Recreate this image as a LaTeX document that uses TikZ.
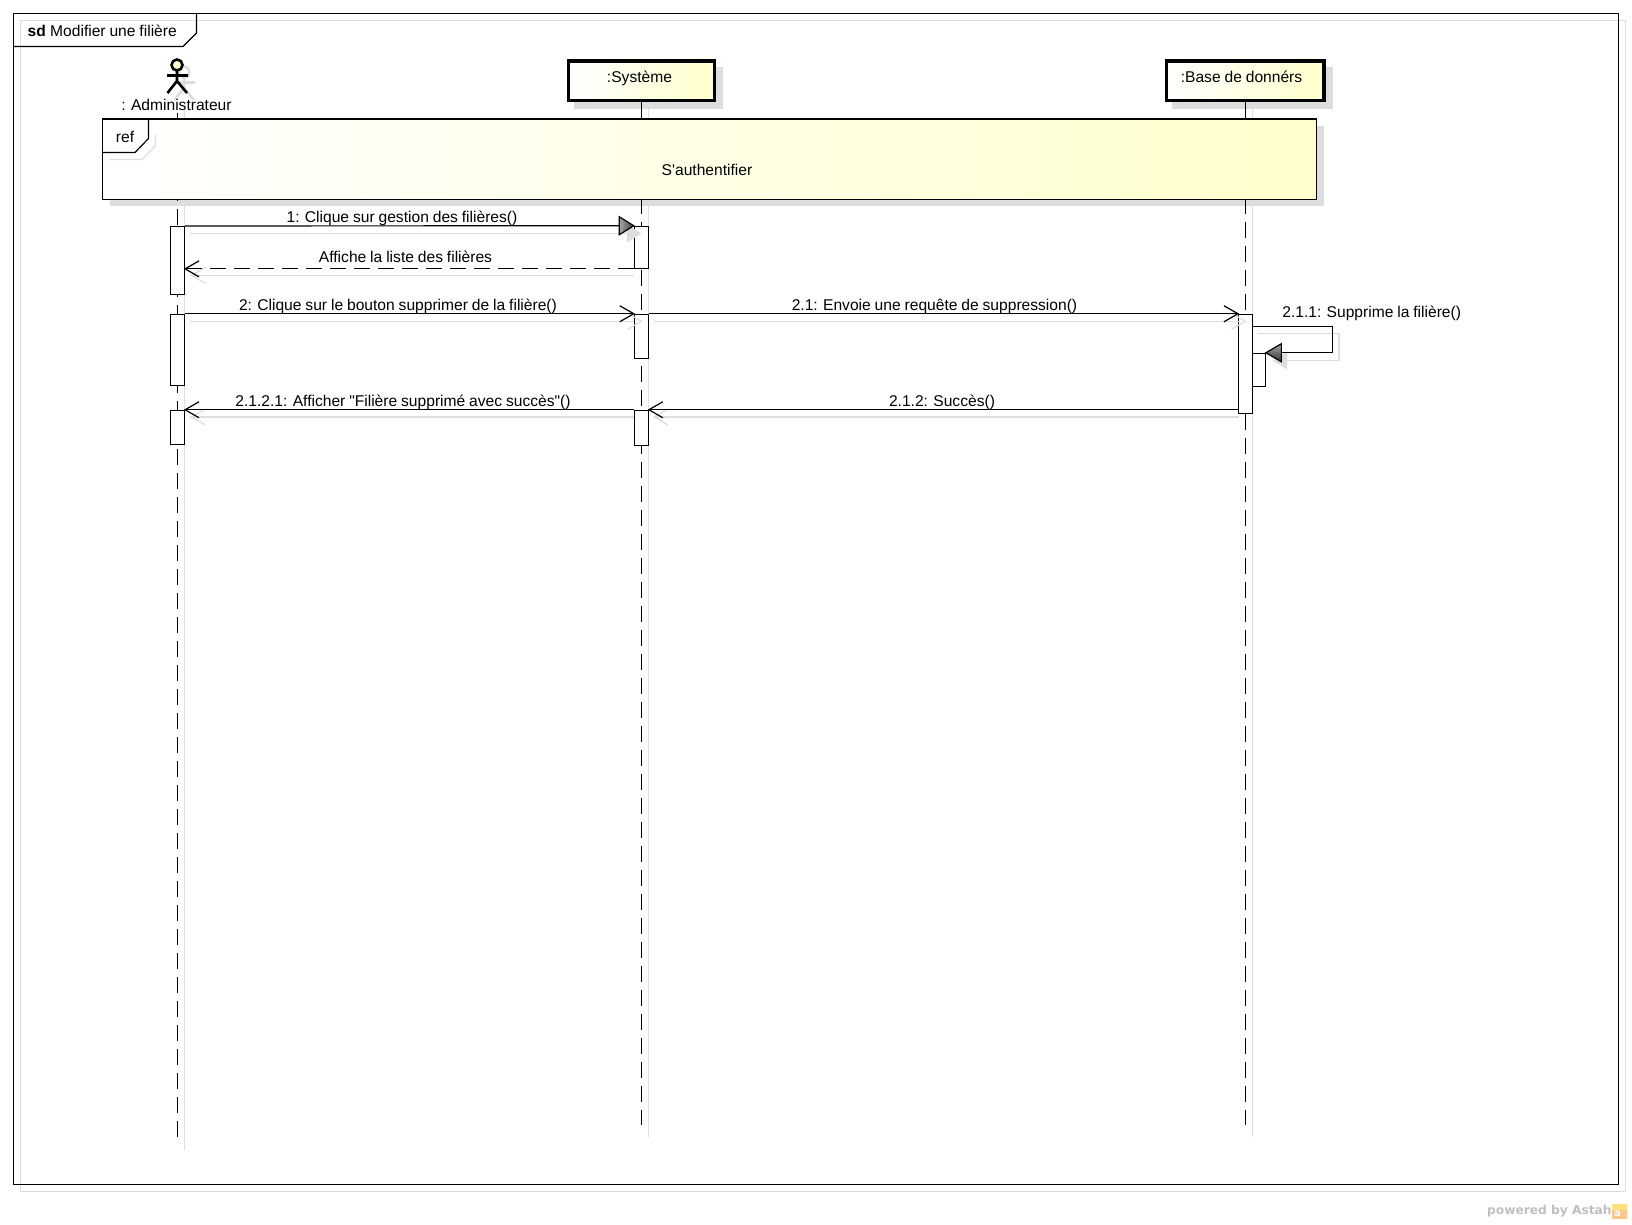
\documentclass[tikz,border=0pt]{standalone}
\usepackage{fontspec}
\setmainfont[WordSpace=0.9,Ligatures=TeXOff]{Liberation Sans}
\newfontfamily\footfont{DejaVu Sans}
\usetikzlibrary{calc}
\definecolor{shadowgrey}{HTML}{DDDDDD}
\definecolor{paleyellow}{HTML}{FFFFCC}
\tikzset{
  x=1pt,y=-1pt,
  txt/.style={font=\fontsize{15.6}{18}\selectfont,inner sep=0pt,text=black,text height=12pt,text depth=3pt,yshift=-1pt},
  hd/.style={draw=black,line width=3.5pt,left color=white,right color=paleyellow,shading angle=90,minimum height=39.5pt,inner sep=0pt,anchor=north west},
  act/.style={draw=black,line width=1.1pt,fill=white,minimum width=14pt,inner sep=0pt},
  msg/.style={draw=black,line width=1.2pt},
  ret/.style={msg,dash pattern=on 16pt off 8pt},
  life/.style={draw=black,line width=1.2pt,dash pattern=on 16pt off 8pt},
  shd/.style={draw=shadowgrey,line width=1.2pt},
  shopen/.style={draw=shadowgrey,line width=1.2pt},
  barb/.style={draw=black,line width=1.2pt},
  stick/.style={line width=2.6pt},
}
\begin{document}
\begin{tikzpicture}
\useasboundingbox (0,0) rectangle (1632,1224);
\fill[white] (0,0) rectangle (1632,1224);
% frame shadow
\draw[shd] (20.5,20.5) rectangle (1625.5,1191.5);
% actor shadow
\begin{scope}[shift={(7,7)}]
 \draw[draw=shadowgrey,stick] (177,71) -- (177,83) (167,75.5) -- (188,75.5) (167.5,93) -- (177,81) -- (187,93);
 \draw[draw=shadowgrey,stick] (177,65) circle (5.5);
\end{scope}
% head shadows
\fill[shadowgrey] (573.7,66.5) rectangle (723,109);
\fill[shadowgrey] (1171.7,66.5) rectangle (1332.7,109);
% lifeline shadows
\draw[shd] (184.5,104) -- (184.5,1150);
\draw[shd] (648.3,109) -- (648.3,1137);
\draw[shd] (1252.3,109) -- (1252.3,1137);
% ref shadow
\fill[shadowgrey] (109.5,126) rectangle (1323.5,206.3);
% frame
\draw[draw=black,line width=1.4pt] (13.5,13.5) rectangle (1618.5,1184.5);
\draw[draw=black,line width=1.4pt] (13.5,46.5) -- (183,46.5) -- (196.5,33) -- (196.5,13.5);
\node[txt,anchor=west] (sdk) at (27.5,31) {\bfseries sd};
\node[txt,anchor=west] (sdt) at (50,31) {Modifier une filière};
% lifelines
\coordinate (atop) at (177.5,113);
\coordinate (aend) at (177.5,1137);
\coordinate (send) at (641.3,1125);
\coordinate (bend) at (1245.3,1125);
\draw[life] (atop) -- (aend);
% actor
\draw[draw=black,stick] (177,71) -- (177,83) (167,75.5) -- (188,75.5) (167.5,93) -- (177,81) -- (187,93);
\draw[draw=black,stick,fill=paleyellow] (177,65) circle (5.5);
\node[txt] (alabel) at (176.5,105) {: Administrateur};
% heads
\node[hd,minimum width=146pt] (sh) at (566.75,59.25) {};
\node[txt] (shl) at (639.5,77) {:Système};
\node[hd,minimum width=157.5pt] (bh) at (1164.7,59.25) {};
\node[txt] (bhl) at (1241.5,77) {:Base de donnérs};
\draw[life] (sh.south -| send) -- (send);
\draw[life] (bh.south -| bend) -- (bend);
% ref
\shade[left color=white,right color=paleyellow,shading angle=90] (102.5,119) rectangle (1316.5,199.3);
\draw[draw=black,line width=1.2pt] (102.5,119) rectangle (1316.5,199.3);
\node[txt] (refk) at (125,137) {ref};
\node[txt] (refl) at (707,170) {S'authentifier};
% activations
\node[act,minimum height=68pt] (a1) at (177.5,260.5) {};
\node[act,minimum height=71pt] (a2) at (177.5,349.8) {};
\node[act,minimum height=34pt] (a3) at (177.5,427.3) {};
\node[act,minimum height=42pt] (s1) at (641.3,247.3) {};
\node[act,minimum height=44pt] (s2) at (641.3,336.3) {};
\node[act,minimum height=35pt] (s3) at (641.3,427.8) {};
\node[act,minimum height=99pt] (b1) at (1245.5,363.8) {};
\node[act,minimum width=13pt,minimum height=33pt] (b2) at (1258.8,369.8) {};
% ref tab
\draw[draw=shadowgrey,line width=1.2pt] (109.5,159.5) -- (142,159.5) -- (155.5,145.5) -- (155.5,135);
\draw[draw=black,line width=1.2pt] (102.5,152.5) -- (135,152.5) -- (148.5,138.5) -- (148.5,119);
% message shadows
\draw[shd] (190,233.3) -- (634,233.3);
\draw[shd] (190,275.3) -- (634,275.3);
\draw[shd] (190,321.3) -- (634,321.3);
\draw[shd] (654,321.3) -- (1238.7,321.3);
\draw[shd] (190,417) -- (634,417);
\draw[shd] (654,417) -- (1238.7,417);
\draw[shd] (1258,333.3) -- (1339,333.3) -- (1339,360.3) -- (1287,360.3);
\fill[shadowgrey] (641.5,233.5) -- (627,224.5) -- (627,242.5) -- cycle;
\draw[shopen] (205.5,267.3) -- (191.5,275.3) -- (205.5,283.3);
\draw[shopen] (627.5,313.3) -- (641.5,321.3) -- (627.5,329.3);
\draw[shopen] (1231.5,313.3) -- (1245.5,321.3) -- (1231.5,329.3);
\draw[shopen] (205.5,409) -- (191.5,417) -- (205.5,425);
\draw[shopen] (668,409) -- (654,417) -- (668,425);
\fill[shadowgrey] (1272.5,360.5) -- (1287,351.5) -- (1287,369.5) -- cycle;
% messages
\draw[msg] (a1.north east) -- (s1.north west);
\draw[ret] (s1.south west) -- (s1.south west -| a1.east);
\draw[msg] (a2.north east) -- (s2.north west);
\draw[msg] (s2.north east) -- (b1.north west);
\draw[msg] (b1.west |- s3.north) -- (s3.north east);
\draw[msg] (s3.north west) -- (a3.north east);
\coordinate (selfb) at (1332.3,326.3);
\draw[msg] (b1.east |- selfb) -- (selfb) -- (selfb |- b2.north) -- (b2.north east);
% arrow heads
\shade[left color=black!35,right color=black!75,draw=black,line width=1.2pt] (s1.north west) -- ++(-14.5,-9) -- ++(0,18) -- cycle;
\shade[top color=black!35,bottom color=black!80,draw=black,line width=1.2pt] (b2.north east) -- ++(15.5,-9) -- ++(0,18) -- cycle;
\draw[barb] ($(s1.south west -| a1.east)+(14,-8)$) -- (s1.south west -| a1.east) -- ++(14,8);
\draw[barb] ($(s2.north west)+(-14,-8)$) -- (s2.north west) -- ++(-14,8);
\draw[barb] ($(b1.north west)+(-14,-8)$) -- (b1.north west) -- ++(-14,8);
\draw[barb] ($(s3.north east)+(14,-8)$) -- (s3.north east) -- ++(14,8);
\draw[barb] ($(a3.north east)+(14,-8)$) -- (a3.north east) -- ++(14,8);
% labels
\node[txt] (m1) at (402,216.5) {1: Clique sur gestion des filières()};
\node[txt] (m2) at (405.5,257) {Affiche la liste des filières};
\node[txt] (m3) at (398,305) {2: Clique sur le bouton supprimer de la filière()};
\node[txt] (m4) at (934.5,305) {2.1: Envoie une requête de suppression()};
\node[txt] (m5) at (1371.7,311.7) {2.1.1: Supprime la filière()};
\node[txt] (m6) at (942,400.7) {2.1.2: Succès()};
\node[txt] (m7) at (403,400.7) {2.1.2.1: Afficher "Filière supprimé avec succès"()};
% footer
\node[anchor=east,inner sep=0pt,text=black!25,font=\footfont\bfseries\fontsize{12.2}{15}\selectfont] (pw) at (1611.7,1211) {powered by Astah};
\fill[orange!45!white] (1612,1204) rectangle (1627,1219);
\fill[yellow!60!orange!50!white] (1612,1204) rectangle (1627,1210);
\node[inner sep=0pt,text=white,font=\footfont\bfseries\fontsize{10}{10}\selectfont] (logo) at (1617.5,1213.5) {a};
\end{tikzpicture}
\end{document}
